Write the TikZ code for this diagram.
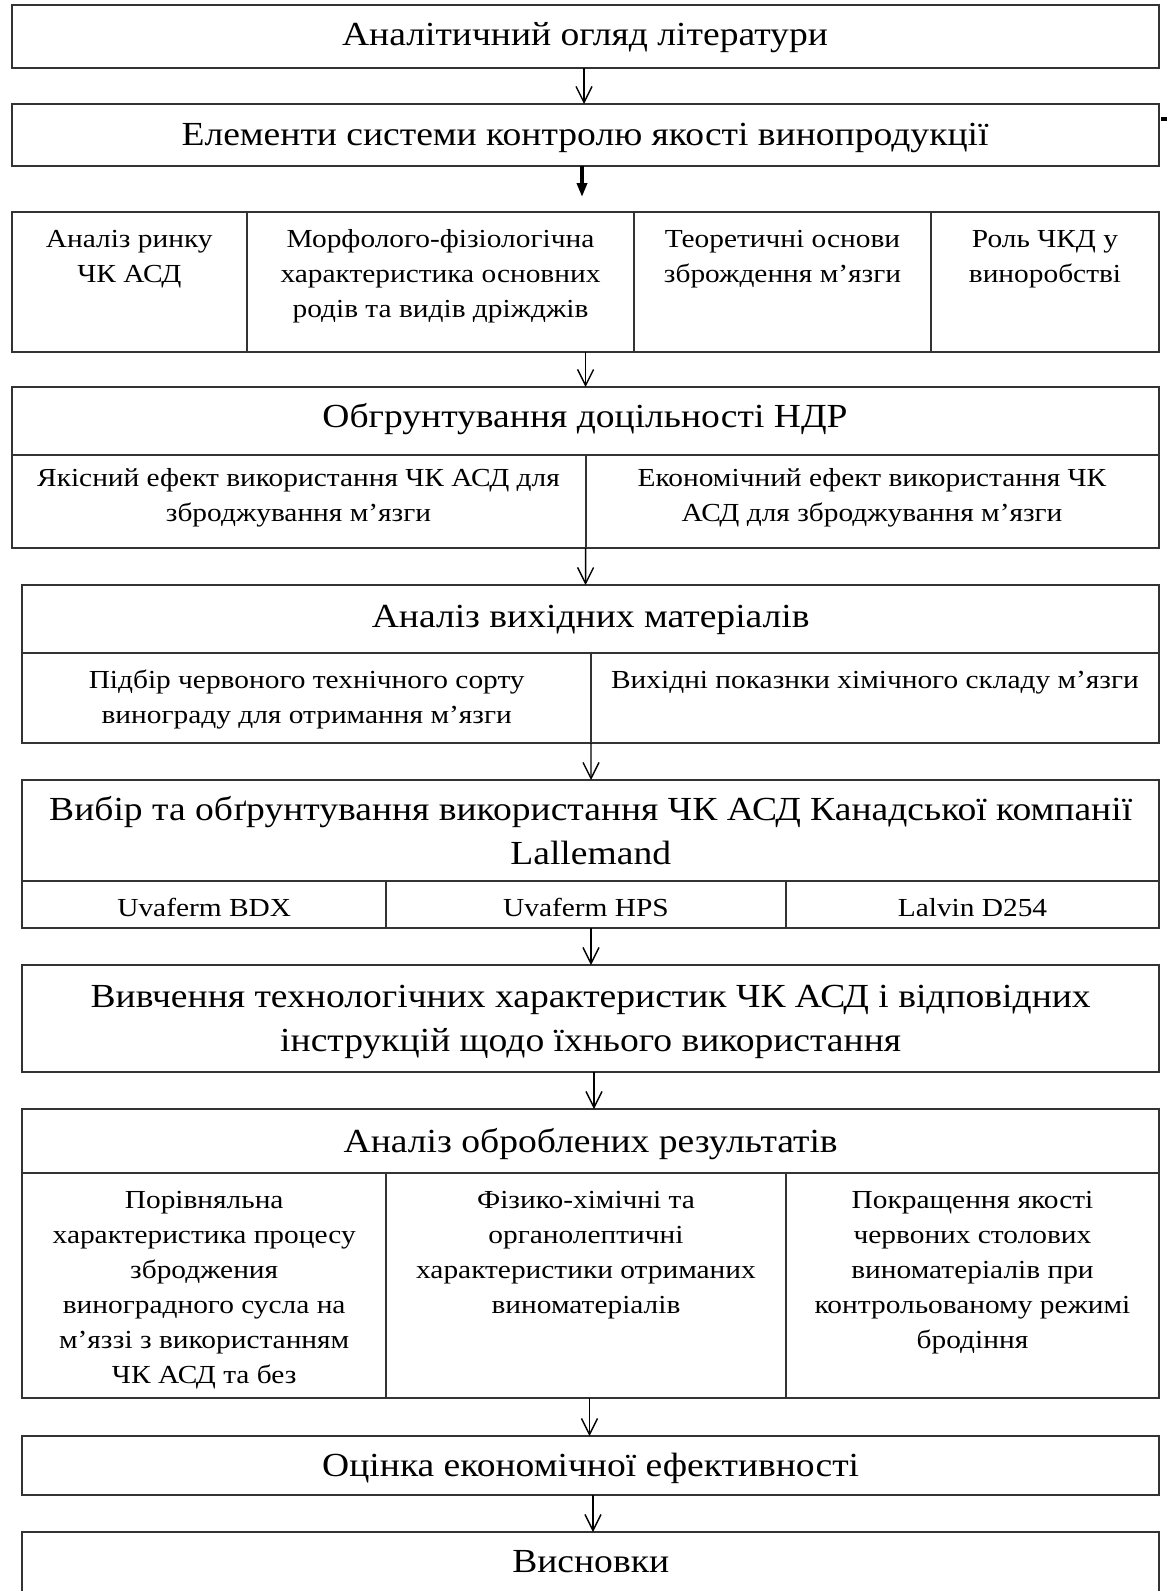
\documentclass[tikz,border=0pt]{standalone}
\usepackage{fontspec}
\setmainfont{Liberation Serif}
\newfontfamily\bigfnt{Liberation Serif}[FakeStretch=1.115]
\newfontfamily\smallfnt{Liberation Serif}[FakeStretch=1.13]
\usetikzlibrary{arrows.meta,fit,calc}
\newcommand{\ml}[1]{\begin{tabular}[t]{@{}c@{}}#1\end{tabular}}
\tikzset{
  cell/.style={draw=black!80, line width=1pt, inner sep=0pt, outer sep=0pt},
  bigtxt/.style={font=\bigfnt\fontsize{16.85}{22.25}\selectfont, align=center, inner sep=0pt, anchor=base},
  smalltxt/.style={font=\smallfnt\fontsize{13}{17.5}\selectfont, align=center, inner sep=0pt, anchor=base},
  arr/.style={draw=black, line width=0.7pt, -{Straight Barb[length=8pt,width=8pt]}},
  thickarr/.style={draw=black, line width=2pt, -{Triangle[length=7pt,width=5pt]}},
}
\begin{document}
\begin{tikzpicture}[x=0.5pt,y=-0.5pt]
\useasboundingbox (0,0) rectangle (1167,1591);
% box 1
\node[cell, fit={(11.5,5) (1159,68)}] (b1) {};
\node[bigtxt] (t1) at (585,45) {Аналітичний огляд літератури};
% box 2
\node[cell, fit={(11.5,104) (1159,166)}] (b2) {};
\node[bigtxt] (t2) at (585,145) {Елементи системи контролю якості винопродукції};
\draw[line width=2pt] (1161,119) -- (1167,119);
% box 3
\node[cell, fit={(11.5,212) (247,351.5)}] (b3a) {};
\node[cell, fit={(247,212) (634,351.5)}] (b3b) {};
\node[cell, fit={(634,212) (931,351.5)}] (b3c) {};
\node[cell, fit={(931,212) (1159,351.5)}] (b3d) {};
\node[smalltxt] (t3a) at (129.3,247) {\ml{Аналіз ринку\\ЧК АСД}};
\node[smalltxt] (t3b) at (440.5,247) {\ml{Морфолого-фізіологічна\\характеристика основних\\родів та видів дріжджів}};
\node[smalltxt] (t3c) at (782.5,247) {\ml{Теоретичні основи\\зброждення м’язги}};
\node[smalltxt] (t3d) at (1045,247) {\ml{Роль ЧКД у\\виноробстві}};
% box 4
\node[cell, fit={(11.5,387) (1159,455)}] (b4h) {};
\node[cell, fit={(11.5,455) (585.6,548)}] (b4l) {};
\node[cell, fit={(585.6,455) (1159,548)}] (b4r) {};
\node[bigtxt] (t4h) at (585,427) {Обгрунтування доцільності НДР};
\node[smalltxt] (t4l) at (298.5,486) {\ml{Якісний ефект використання ЧК АСД для\\зброджування м’язги}};
\node[smalltxt] (t4r) at (872,486) {\ml{Економічний ефект використання ЧК\\АСД для зброджування м’язги}};
% box 5
\node[cell, fit={(22.4,585) (1159,652.7)}] (b5h) {};
\node[cell, fit={(22.4,652.7) (591,743)}] (b5l) {};
\node[cell, fit={(591,652.7) (1159,743)}] (b5r) {};
\node[bigtxt] (t5h) at (590.7,627) {Аналіз вихідних матеріалів};
\node[smalltxt] (t5l) at (306.7,688) {\ml{Підбір червоного технічного сорту\\винограду для отримання м’язги}};
\node[smalltxt] (t5r) at (875,688) {Вихідні показнки хімічного складу м’язги};
% box 6
\node[cell, fit={(22.4,780) (1159,881)}] (b6h) {};
\node[cell, fit={(22.4,881) (386,928)}] (b6a) {};
\node[cell, fit={(386,881) (786,928)}] (b6b) {};
\node[cell, fit={(786,881) (1159,928)}] (b6c) {};
\node[bigtxt] (t6h) at (590.7,820) {\ml{Вибір та обґрунтування використання ЧК АСД Канадської компанії\\Lallemand}};
\node[smalltxt] (t6a) at (204.2,916) {Uvaferm BDX};
\node[smalltxt] (t6b) at (586,916) {Uvaferm HPS};
\node[smalltxt] (t6c) at (972.5,916) {Lalvin D254};
% box 7
\node[cell, fit={(22.4,965) (1159,1072)}] (b7) {};
\node[bigtxt] (t7) at (590.7,1007) {\ml{Вивчення технологічних характеристик ЧК АСД і відповідних\\інструкцій щодо їхнього використання}};
% box 8
\node[cell, fit={(22.4,1109) (1159,1173)}] (b8h) {};
\node[cell, fit={(22.4,1173) (386,1398)}] (b8a) {};
\node[cell, fit={(386,1173) (786,1398)}] (b8b) {};
\node[cell, fit={(786,1173) (1159,1398)}] (b8c) {};
\node[bigtxt] (t8h) at (590.7,1152) {Аналіз оброблених результатів};
\node[smalltxt] (t8a) at (204.2,1208) {\ml{Порівняльна\\характеристика процесу\\зброджения\\виноградного сусла на\\м’яззі з використанням\\ЧК АСД та без}};
\node[smalltxt] (t8b) at (586,1208) {\ml{Фізико-хімічні та\\органолептичні\\характеристики отриманих\\виноматеріалів}};
\node[smalltxt] (t8c) at (972.5,1208) {\ml{Покращення якості\\червоних столових\\виноматеріалів при\\контрольованому режимі\\бродіння}};
% box 9
\node[cell, fit={(22.4,1436) (1159,1495)}] (b9) {};
\node[bigtxt] (t9) at (590.7,1476) {Оцінка економічної ефективності};
% box 10
\node[cell, fit={(22.4,1532) (1159,1600)}] (b10) {};
\node[bigtxt] (t10) at (590.7,1572) {Висновки};
% arrows
\coordinate (x1) at (584,0);
\coordinate (x2) at (582,0);
\coordinate (x3) at (585.6,0);
\coordinate (x5) at (591,0);
\coordinate (x7) at (594,0);
\coordinate (x8) at (589.5,0);
\coordinate (x9) at (593,0);
\coordinate (e2) at (582,197);
\draw[arr] (b1.south -| x1) -- (b2.north -| x1);
\draw[thickarr] (b2.south -| x2) -- (e2);
\draw[arr] (b3b.south -| x3) -- (b4h.north -| x3);
\draw[arr] (b4l.south east) -- (b5h.north -| x3);
\draw[arr] (b5l.south east) -- (b6h.north -| x5);
\draw[arr] (b6b.south -| x5) -- (b7.north -| x5);
\draw[arr] (b7.south -| x7) -- (b8h.north -| x7);
\draw[arr] (b8b.south -| x8) -- (b9.north -| x8);
\draw[arr] (b9.south -| x9) -- (b10.north -| x9);
\end{tikzpicture}
\end{document}
